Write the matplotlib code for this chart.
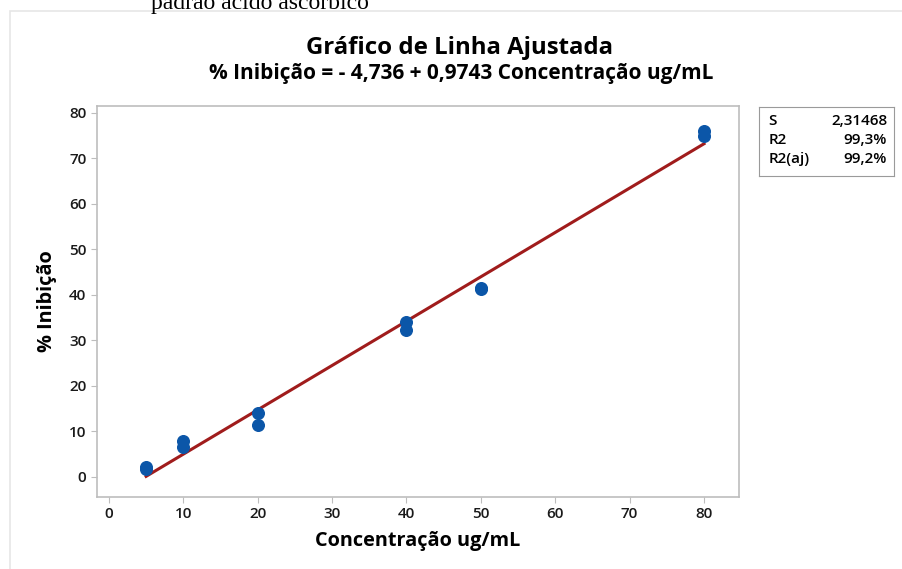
import numpy as np
import matplotlib.pyplot as plt
from matplotlib.patches import Rectangle

plt.rcParams['font.family'] = ['Open Sans', 'DejaVu Sans']
plt.rcParams['font.stretch'] = 'normal'

# concentration (ug/mL) and inhibition (%) replicates
conc = [5, 5, 10, 10, 20, 20, 40, 40, 50, 50, 80, 80]
inib = [1.8, 2.1, 7.9, 6.6, 14.1, 11.4, 34.1, 32.3, 41.4, 41.6, 76.0, 74.9]

b0, b1 = -4.736, 0.9743
stats_names = ['S', 'R2', 'R2(aj)']
stats_vals = ['2,31468', '99,3%', '99,2%']

fig = plt.figure(figsize=(9.02, 5.69), dpi=100)

# page frame around the figure
fig.patches.append(Rectangle((10 / 902, -0.1), 1.1, 1.1 - 11 / 569, transform=fig.transFigure,
                             fill=False, edgecolor='#e6e6e6', lw=1.2))
fig.text(260 / 902, 1 + 0.012, 'padrão ácido ascórbico', family='Liberation Serif',
         fontsize=17, ha='center', va='top', color='black')

ax = fig.add_axes([97 / 902, 1 - 497 / 569, 642 / 902, 391 / 569])

xs = np.array([min(conc), max(conc)])
ax.plot(xs, b0 + b1 * xs, color='#a01c1c', lw=2.2, zorder=2)
ax.scatter(conc, inib, s=70, color='#0b56a8', zorder=3)

ax.set_xlim(-1.6, 84.7)
ax.set_ylim(-4.4, 81.5)
ax.set_xticks(range(0, 81, 10))
ax.set_yticks(range(0, 81, 10))
for s in ax.spines.values():
    s.set_color('#bdbdbd')
    s.set_linewidth(1.2)
ax.tick_params(colors='#bdbdbd', labelcolor='#1a1a1a', labelsize=11, length=4)
for lb in ax.get_xticklabels() + ax.get_yticklabels():
    lb.set_fontweight('semibold')
    lb.set_fontstretch('normal')

ax.set_xlabel('Concentração ug/mL', fontsize=14.3, fontweight='bold', labelpad=7)
ax.set_ylabel('% Inibição', fontsize=14.3, fontweight='bold', labelpad=9)

fig.text(460 / 902, 1 - 48 / 569, 'Gráfico de Linha Ajustada', fontsize=17.3,
         fontweight='bold', ha='center', va='center')
fig.text(461 / 902, 1 - 73 / 569, '% Inibição = - 4,736 + 0,9743 Concentração ug/mL',
         fontsize=15, fontweight='bold', ha='center', va='center')

# summary box
box = fig.add_axes([759 / 902, 1 - 176 / 569, 135 / 902, 69 / 569])
box.set_xticks([])
box.set_yticks([])
for s in box.spines.values():
    s.set_color('#9a9a9a')
for i, (n, v) in enumerate(zip(stats_names, stats_vals)):
    yy = 0.79 - i * 0.275
    box.text(0.07, yy, n, fontsize=11, fontweight='semibold', va='center', ha='left')
    box.text(0.95, yy, v, fontsize=11, fontweight='semibold', va='center', ha='right')

fig.savefig('out.png', dpi=100)
